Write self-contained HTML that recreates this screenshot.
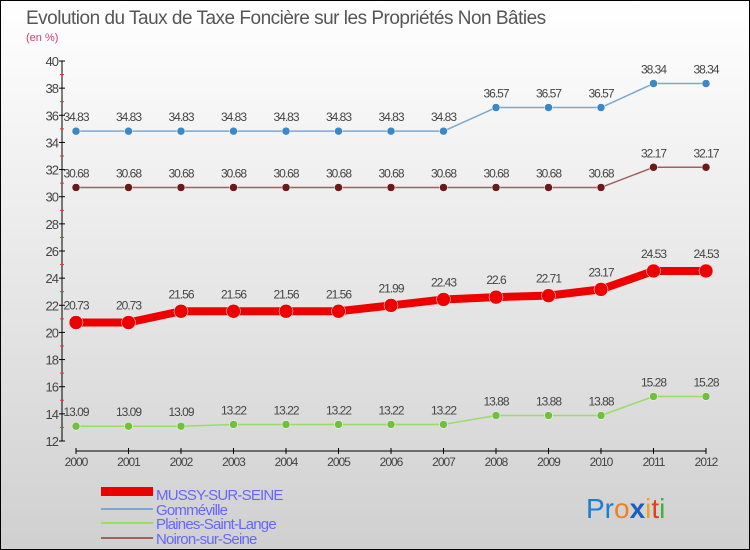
<!DOCTYPE html>
<html><head><meta charset="utf-8"><style>
body{margin:0}
#c{position:relative;width:748px;height:548px;border:1px solid #000;background:linear-gradient(#ffffff,#d0d0d0);font-family:"Liberation Sans",sans-serif;overflow:hidden}
</style></head><body>
<div id="c">
<svg id="s" width="748" height="548" xmlns="http://www.w3.org/2000/svg">
<text x="25" y="23" font-size="19" fill="#555" font-family="Liberation Sans, sans-serif" letter-spacing="-0.5">Evolution du Taux de Taxe Foncière sur les Propriétés Non Bâties</text>
<text x="25" y="40" font-size="11" fill="#d04070">(en %)</text>
<g id="axes"></g><g id="series"></g>
<g>
<rect x="100" y="486" width="52" height="9" fill="#e00"/>
<text x="155" y="499" font-size="15" fill="#66f" letter-spacing="-0.8">MUSSY-SUR-SEINE</text>
<rect x="100" y="507" width="52" height="2" fill="#7aa8d0"/>
<text x="155" y="514" font-size="15" fill="#66f" letter-spacing="-0.8">Gomméville</text>
<rect x="100" y="521" width="52" height="2" fill="#9d6"/>
<text x="155" y="528" font-size="15" fill="#66f" letter-spacing="-0.8">Plaines-Saint-Lange</text>
<rect x="100" y="536" width="52" height="2" fill="#a06060"/>
<text x="155" y="543" font-size="15" fill="#66f" letter-spacing="-0.8">Noiron-sur-Seine</text>
</g>
<text x="585" y="517" font-size="28"><tspan fill="#1a7fd0">Pr</tspan><tspan fill="#f08020">o</tspan><tspan fill="#1a5fc0" font-weight="bold">x</tspan><tspan fill="#f0a020">i</tspan><tspan fill="#e04020">t</tspan><tspan fill="#40b040">i</tspan></text>
</svg></div>
<script>
const years=[2000,2001,2002,2003,2004,2005,2006,2007,2008,2009,2010,2011,2012];
const mussy=[20.73,20.73,21.56,21.56,21.56,21.56,21.99,22.43,22.6,22.71,23.17,24.53,24.53];
const gomme=[34.83,34.83,34.83,34.83,34.83,34.83,34.83,34.83,36.57,36.57,36.57,38.34,38.34];
const plaines=[13.09,13.09,13.09,13.22,13.22,13.22,13.22,13.22,13.88,13.88,13.88,15.28,15.28];
const noiron=[30.68,30.68,30.68,30.68,30.68,30.68,30.68,30.68,30.68,30.68,30.68,32.17,32.17];
const yTicks=[12,14,16,18,20,22,24,26,28,30,32,34,36,38,40];
const NS="http://www.w3.org/2000/svg";
const X=i=>75+i*52.5, Y=v=>440-(v-12)*(380/28);
function mk(t,a,p){const e=document.createElementNS(NS,t);for(const k in a)e.setAttribute(k,a[k]);p.appendChild(e);return e;}
const ax=document.getElementById('axes'), sg=document.getElementById('series');
let e=mk('line',{x1:61,y1:60,x2:61,y2:440,stroke:'#000'},ax);

e=mk('line',{x1:75,y1:450,x2:705,y2:450,stroke:'#000'},ax);

yTicks.forEach((v,i)=>{
 const t=mk('line',{x1:58,x2:64,y1:Y(v),y2:Y(v),stroke:'#000'},ax);
 
 if(i<yTicks.length-1){const m=mk('line',{x1:59,x2:63,y1:Y(v+1),y2:Y(v+1),stroke:'#e33'},ax);
 }
 const l=mk('text',{x:57,y:Y(v)+5,'font-size':13,fill:'#444','text-anchor':'end','letter-spacing':'-1'},ax);l.textContent=v;
 
});
years.forEach((y,i)=>{
 const t=mk('line',{x1:X(i),x2:X(i),y1:447,y2:453,stroke:'#000'},ax);
 
 const l=mk('text',{x:X(i),y:465,'font-size':12,fill:'#444','text-anchor':'middle','letter-spacing':'-1'},ax);l.textContent=y;
 
});
function series(d,name,col,dot,w,r){
 const p=mk('polyline',{points:d.map((v,i)=>X(i)+','+Y(v)).join(' '),fill:'none',stroke:col,'stroke-width':w,'stroke-linejoin':'round'},sg);
 
 d.forEach((v,i)=>{
  const c=mk('circle',{cx:X(i),cy:Y(v),r:r,fill:dot,stroke:'#fff','stroke-width':0.5},sg);
  
  const l=mk('text',{x:X(i),y:Y(v)-(r+6),'font-size':12,fill:'#444','text-anchor':'middle','letter-spacing':'-1'},sg);l.textContent=v;
  
 });
}
series(gomme,'gommeville','#7aa8d0','#3a88c8',1.5,4);
series(noiron,'noiron','#a06060','#6a1a1a',1.5,4);
series(plaines,'plaines','#9d6','#70c040',1.5,4);
series(mussy,'mussy','#e00','#e00',8,7);
</script>
</body></html>
